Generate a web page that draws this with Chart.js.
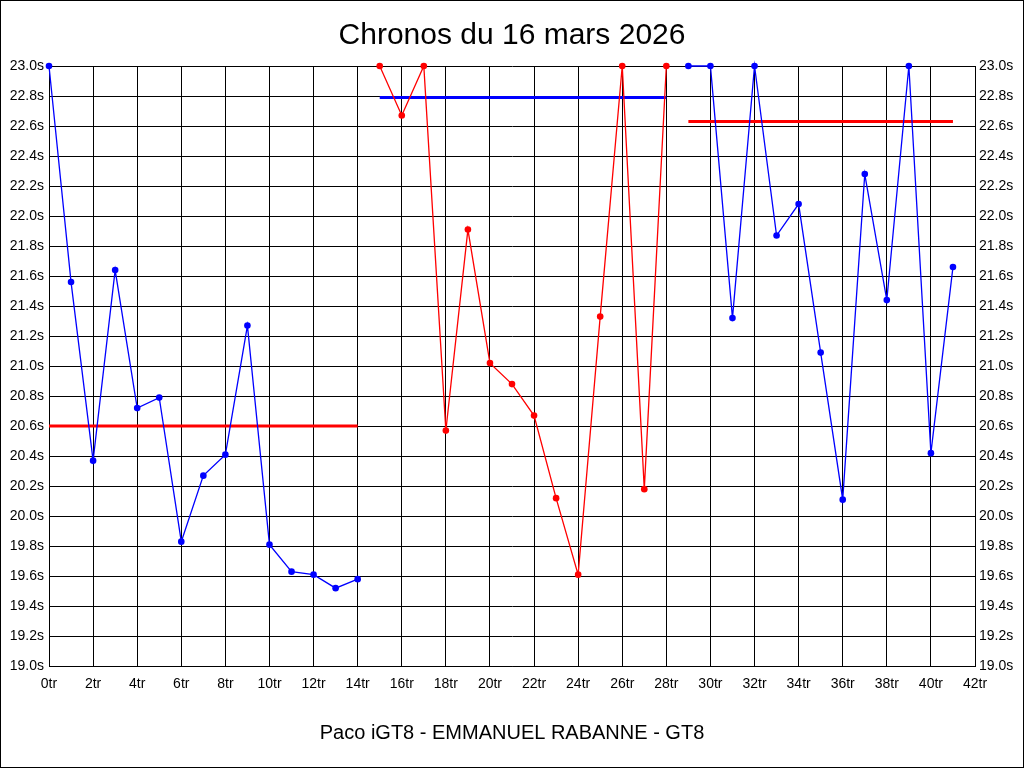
<!DOCTYPE html>
<html>
<head>
<meta charset="utf-8">
<script src="https://cdn.jsdelivr.net/npm/chart.js@4/dist/chart.umd.min.js"></script>
<style>
  html, body { margin: 0; padding: 0; background: #fff; }
  #wrap { width: 1024px; height: 768px; }
</style>
</head>
<body>
<div id="wrap"><canvas id="chronoChart" width="1024" height="768"></canvas></div>
<script>
// Lap times (seconds), lap 0..41
const lapTimes = [
  23.0, 21.56, 20.37, 21.64, 20.72, 20.79, 19.83, 20.27, 20.41, 21.27,
  19.81, 19.63, 19.61, 19.52, 19.58,
  23.0, 22.67, 23.0, 20.57, 21.91, 21.02, 20.88, 20.67, 20.12, 19.61,
  21.33, 23.0, 20.18, 23.0,
  23.0, 23.0, 21.32, 23.0, 21.87, 22.08, 21.09, 20.11, 22.28, 21.44,
  23.0, 20.42, 21.66
];

// Runs: first lap, last lap, colour of the run, mean time, colour of mean
const runStart = [0, 15, 29];
const runEnd = [14, 28, 41];
const runColors = ["#0000ff", "#ff0000", "#0000ff"];
const runMeans = [20.6, 22.79, 22.63];
const meanColors = ["#ff0000", "#0000ff", "#ff0000"];

const yMin = 19.0;
const yMax = 23.0;
const xMax = 42;

const datasets = [];

// Mean lines
runStart.forEach((start, i) => {
  datasets.push({
    data: [{ x: start, y: runMeans[i] }, { x: runEnd[i], y: runMeans[i] }],
    borderColor: meanColors[i],
    borderWidth: 3,
    pointRadius: 0,
    order: 2,
  });
});

// Lap time runs
runStart.forEach((start, i) => {
  const pts = [];
  for (let lap = start; lap <= runEnd[i]; lap++) {
    pts.push({ x: lap, y: lapTimes[lap] });
  }
  datasets.push({
    data: pts,
    borderColor: runColors[i],
    backgroundColor: runColors[i],
    borderWidth: 1.3,
    pointRadius: 3.3,
    pointBorderWidth: 0,
    clip: false,
    order: 1,
  });
});

// White background + outer frame
const framePlugin = {
  id: "frame",
  beforeDraw(chart) {
    const c = chart.ctx;
    c.save();
    c.fillStyle = "#fff";
    c.fillRect(0, 0, chart.width, chart.height);
    c.strokeStyle = "#000";
    c.lineWidth = 1;
    c.strokeRect(0.5, 0.5, chart.width - 1, chart.height - 1);
    c.restore();
  },
};

const tickFont = { family: "'Liberation Sans', Arial, sans-serif", size: 14 };

new Chart(document.getElementById("chronoChart"), {
  type: "line",
  data: { datasets },
  plugins: [framePlugin],
  options: {
    responsive: false,
    animation: false,
    layout: { padding: 0 },
    plugins: {
      legend: { display: false },
      tooltip: { enabled: false },
      title: {
        display: true,
        text: "Chronos du 16 mars 2026",
        color: "#000",
        font: { family: "'Liberation Sans', Arial, sans-serif", size: 30, weight: "normal" },
        padding: { top: 18, bottom: 12 },
      },
    },
    scales: {
      x: {
        type: "linear",
        min: 0,
        max: xMax,
        grid: { color: "#000", lineWidth: 1, drawTicks: false },
        border: { color: "#000" },
        ticks: {
          stepSize: 2,
          color: "#000",
          font: tickFont,
          padding: 10,
          maxRotation: 0,
          callback: (v) => v + "tr",
        },
        title: {
          display: true,
          text: "Paco iGT8 - EMMANUEL RABANNE - GT8",
          color: "#000",
          font: { family: "'Liberation Sans', Arial, sans-serif", size: 20 },
          padding: { top: 18, bottom: 23 },
        },
      },
      y: {
        position: "left",
        min: yMin,
        max: yMax,
        grid: { color: "#000", lineWidth: 1, drawTicks: false },
        border: { color: "#000" },
        ticks: {
          stepSize: 0.2,
          color: "#000",
          font: tickFont,
          padding: 5,
          callback: (v) => v.toFixed(1) + "s",
        },
        afterFit: (scale) => { scale.width = 49; },
      },
      y2: {
        position: "right",
        min: yMin,
        max: yMax,
        grid: { display: false, drawTicks: false },
        border: { color: "#000" },
        ticks: {
          stepSize: 0.2,
          color: "#000",
          font: tickFont,
          padding: 4,
          callback: (v) => v.toFixed(1) + "s",
        },
        afterFit: (scale) => { scale.width = 49; },
      },
    },
  },
});
</script>
</body>
</html>
